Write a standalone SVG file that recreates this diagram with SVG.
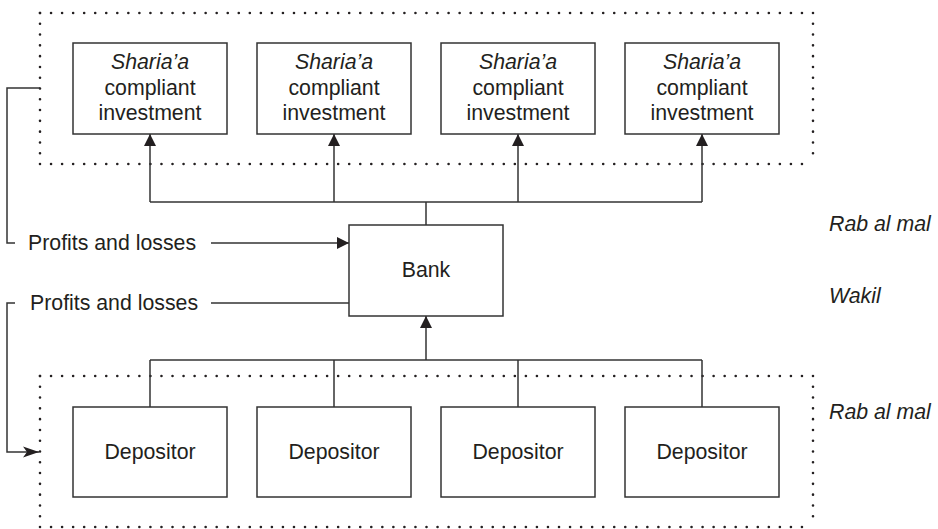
<svg xmlns="http://www.w3.org/2000/svg" width="938" height="529" viewBox="0 0 938 529">
  <style>
    .box { fill: #fff; stroke: #333; stroke-width: 1.5; }
    .txt { font-family: "Liberation Sans", Arial, Helvetica, sans-serif; font-size: 21.3px; fill: #231f20; }
    .mid { text-anchor: middle; }
    .it { font-style: italic; }
    .ln { fill: none; stroke: #333; stroke-width: 1.5; }
    .dots { fill: none; stroke: #231f20; stroke-width: 2.6; stroke-linecap: round; }
    .head { fill: #231f20; stroke: none; }
  </style>
  <defs>
    <marker id="tri" viewBox="0 0 12 12" refX="12" refY="6" markerWidth="12" markerHeight="12" markerUnits="userSpaceOnUse" orient="auto">
      <path d="M0,0 L12,6 L0,12 Z" class="head"/>
    </marker>
    <marker id="slim" viewBox="0 0 16 12" refX="16" refY="6" markerWidth="16" markerHeight="12" markerUnits="userSpaceOnUse" orient="auto">
      <path d="M0,0.5 L16,6 L0,11.5 L4,6 Z" class="head"/>
    </marker>
  </defs>

  <!-- dotted grouping frames -->
  <g id="investment-frame">
    <line class="dots" x1="40" y1="13" x2="813" y2="13" stroke-dasharray="0 11.043"/>
    <line class="dots" x1="40" y1="164" x2="813" y2="164" stroke-dasharray="0 11.043"/>
    <line class="dots" x1="40" y1="13" x2="40" y2="164" stroke-dasharray="0 10.786"/>
    <line class="dots" x1="813" y1="13" x2="813" y2="164" stroke-dasharray="0 10.786"/>
  </g>
  <g id="depositor-frame">
    <line class="dots" x1="40" y1="376" x2="813" y2="376" stroke-dasharray="0 11.043"/>
    <line class="dots" x1="40" y1="527" x2="813" y2="527" stroke-dasharray="0 11.043"/>
    <line class="dots" x1="40" y1="376" x2="40" y2="527" stroke-dasharray="0 10.786"/>
    <line class="dots" x1="813" y1="376" x2="813" y2="527" stroke-dasharray="0 10.786"/>
  </g>

  <!-- connectors -->
  <g id="connectors">
    <path class="ln" d="M150,202 H702"/>
    <path class="ln" d="M426,202 V225"/>
    <path class="ln" d="M150,202 V134" marker-end="url(#tri)"/>
    <path class="ln" d="M334,202 V134" marker-end="url(#tri)"/>
    <path class="ln" d="M518,202 V134" marker-end="url(#tri)"/>
    <path class="ln" d="M702,202 V134" marker-end="url(#tri)"/>

    <path class="ln" d="M150,360 H702"/>
    <path class="ln" d="M150,360 V407"/>
    <path class="ln" d="M334,360 V407"/>
    <path class="ln" d="M518,360 V407"/>
    <path class="ln" d="M702,360 V407"/>
    <path class="ln" d="M426,360 V316" marker-end="url(#tri)"/>

    <path class="ln" d="M211,243 H349" marker-end="url(#tri)"/>
    <path class="ln" d="M211,303 H349"/>

    <path class="ln" d="M40,88 H7 V243 H15"/>
    <path class="ln" d="M15,303 H7 V452 H39" marker-end="url(#slim)"/>
  </g>

  <!-- investments -->
  <g id="investment-1">
    <rect class="box" x="73" y="43" width="154" height="91"/>
    <text class="txt mid" x="150" y="69"><tspan class="it">Sharia’a</tspan><tspan x="150" y="94.5">compliant</tspan><tspan x="150" y="120">investment</tspan></text>
  </g>
  <g id="investment-2">
    <rect class="box" x="257" y="43" width="154" height="91"/>
    <text class="txt mid" x="334" y="69"><tspan class="it">Sharia’a</tspan><tspan x="334" y="94.5">compliant</tspan><tspan x="334" y="120">investment</tspan></text>
  </g>
  <g id="investment-3">
    <rect class="box" x="441" y="43" width="154" height="91"/>
    <text class="txt mid" x="518" y="69"><tspan class="it">Sharia’a</tspan><tspan x="518" y="94.5">compliant</tspan><tspan x="518" y="120">investment</tspan></text>
  </g>
  <g id="investment-4">
    <rect class="box" x="625" y="43" width="154" height="91"/>
    <text class="txt mid" x="702" y="69"><tspan class="it">Sharia’a</tspan><tspan x="702" y="94.5">compliant</tspan><tspan x="702" y="120">investment</tspan></text>
  </g>

  <!-- bank -->
  <g id="bank">
    <rect class="box" x="349" y="225" width="154" height="91"/>
    <text class="txt mid" x="426" y="277">Bank</text>
  </g>

  <!-- depositors -->
  <g id="depositor-1">
    <rect class="box" x="73" y="407" width="154" height="90"/>
    <text class="txt mid" x="150" y="459">Depositor</text>
  </g>
  <g id="depositor-2">
    <rect class="box" x="257" y="407" width="154" height="90"/>
    <text class="txt mid" x="334" y="459">Depositor</text>
  </g>
  <g id="depositor-3">
    <rect class="box" x="441" y="407" width="154" height="90"/>
    <text class="txt mid" x="518" y="459">Depositor</text>
  </g>
  <g id="depositor-4">
    <rect class="box" x="625" y="407" width="154" height="90"/>
    <text class="txt mid" x="702" y="459">Depositor</text>
  </g>

  <!-- flow labels -->
  <g id="labels">
    <text class="txt" x="28" y="250">Profits and losses</text>
    <text class="txt" x="30" y="310">Profits and losses</text>
    <text class="txt it" x="829" y="231">Rab al mal</text>
    <text class="txt it" x="829" y="303">Wakil</text>
    <text class="txt it" x="829" y="419">Rab al mal</text>
  </g>
</svg>
